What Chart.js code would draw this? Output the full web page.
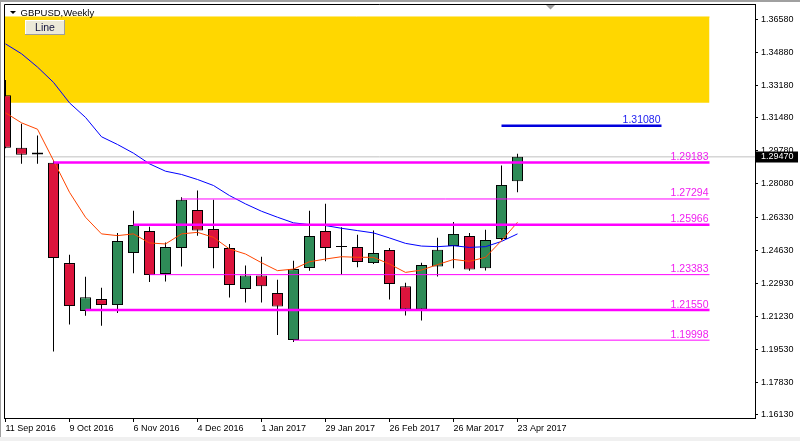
<!DOCTYPE html>
<html>
<head>
<meta charset="utf-8">
<title>GBPUSD,Weekly</title>
<script src="https://cdn.jsdelivr.net/npm/chart.js@4.4.1/dist/chart.umd.min.js"></script>
<style>
  html, body { margin: 0; padding: 0; background: #fff; }
  canvas { display: block; }
</style>
</head>
<body>
<canvas id="chart" width="800" height="441"></canvas>
<script>
// Weekly candles
var weeks = ['11 Sep 2016', '18 Sep 2016', '25 Sep 2016', '2 Oct 2016', '9 Oct 2016', '16 Oct 2016',
    '23 Oct 2016', '30 Oct 2016', '6 Nov 2016', '13 Nov 2016', '20 Nov 2016', '27 Nov 2016',
    '4 Dec 2016', '11 Dec 2016', '18 Dec 2016', '25 Dec 2016', '1 Jan 2017', '8 Jan 2017',
    '15 Jan 2017', '22 Jan 2017', '29 Jan 2017', '5 Feb 2017', '12 Feb 2017', '19 Feb 2017',
    '26 Feb 2017', '5 Mar 2017', '12 Mar 2017', '19 Mar 2017', '26 Mar 2017', '2 Apr 2017',
    '9 Apr 2017', '16 Apr 2017', '23 Apr 2017'];
var open = [1.3265, 1.2994, 1.2959, 1.2916, 1.2398, 1.2150, 1.2212, 1.2181, 1.2450, 1.2564, 1.2342,
    1.2476, 1.2673, 1.2574, 1.2476, 1.2264, 1.2334, 1.2243, 1.2000, 1.2373, 1.2564, 1.2483,
    1.2481, 1.2398, 1.2466, 1.2279, 1.2160, 1.2381, 1.2486, 1.2538, 1.2371, 1.2523, 1.2821];
var high = [1.3344, 1.3118, 1.3057, 1.2928, 1.2441, 1.2328, 1.2271, 1.2554, 1.2669, 1.2586, 1.2505,
    1.2738, 1.2773, 1.2725, 1.2497, 1.2385, 1.2431, 1.2312, 1.2410, 1.2669, 1.2705, 1.2583,
    1.2545, 1.2566, 1.2476, 1.2296, 1.2400, 1.2529, 1.2611, 1.2554, 1.2571, 1.2902, 1.2963];
var low = [1.2992, 1.2911, 1.2911, 1.1941, 1.2081, 1.2126, 1.2074, 1.2140, 1.2345, 1.2300, 1.2303,
    1.2381, 1.2540, 1.2371, 1.2220, 1.2194, 1.2194, 1.2027, 1.1990, 1.2359, 1.2407, 1.2338,
    1.2376, 1.2393, 1.2210, 1.2127, 1.2101, 1.2329, 1.2371, 1.2359, 1.2360, 1.2518, 1.2764];
var close = [1.2994, 1.2958, 1.2970, 1.2424, 1.2176, 1.2222, 1.2181, 1.2512, 1.2595, 1.2336, 1.2481,
    1.2725, 1.2566, 1.2476, 1.2285, 1.2334, 1.2279, 1.2174, 1.2367, 1.2538, 1.2476, 1.2481,
    1.2404, 1.2450, 1.2290, 1.2160, 1.2388, 1.2467, 1.2549, 1.2365, 1.2518, 1.2802, 1.2947];

// moving averages
var maFast = [1.3175, 1.3123, 1.3090, 1.2928, 1.2764, 1.2635, 1.2549, 1.2540, 1.2549, 1.2502, 1.2497,
    1.2549, 1.2557, 1.2531, 1.2471, 1.2445, 1.2400, 1.2359, 1.2367, 1.2405, 1.2419, 1.2431,
    1.2428, 1.2428, 1.2393, 1.2350, 1.2362, 1.2390, 1.2417, 1.2407, 1.2428, 1.2514, 1.2609];
var maSlow = [1.3531, 1.3480, 1.3411, 1.3332, 1.3226, 1.3151, 1.3051, 1.3011, 1.2966, 1.2911, 1.2873,
    1.2856, 1.2830, 1.2799, 1.2747, 1.2704, 1.2666, 1.2635, 1.2606, 1.2597, 1.2592, 1.2578,
    1.2566, 1.2554, 1.2528, 1.2500, 1.2486, 1.2483, 1.2488, 1.2479, 1.2483, 1.2510, 1.2549];

// axes
var tickWeeks = [0, 4, 8, 12, 16, 20, 24, 28, 32];
var priceTicks = [1.36580, 1.34880, 1.33180, 1.31480, 1.29780, 1.28080, 1.26330,
    1.24630, 1.22930, 1.21230, 1.19530, 1.17830, 1.16130];

// drawn objects (prices, start week)
var majorLevels = [1.29183, 1.25966, 1.21550];
var majorStart = [3, 8, 5];
var minorLevels = [1.27294, 1.23383, 1.19998];
var minorStart = [11, 9, 18];
var levelEnd = 44;
var targetLevel = 1.31080;
var targetStart = 31;
var targetEnd = 41;
var zoneTop = 1.3670;
var zoneBottom = 1.3227;
var zoneEnd = 44;

var xMin = -0.09375, xMax = 46.84375;
var yMin = 1.159748, yMax = 1.373707;
var lastPrice = close[close.length - 1];

function flatLine(from, to, value, color, width, order) {
    return {
        type: 'line',
        data: [{x: from, y: value}, {x: to, y: value}],
        borderColor: color,
        borderWidth: width,
        pointRadius: 0,
        fill: false,
        order: order
    };
}

function maLine(values, color) {
    return {
        type: 'line',
        data: values.map((v, i) => ({x: i, y: v})),
        borderColor: color,
        borderWidth: 1,
        pointRadius: 0,
        tension: 0,
        fill: false,
        order: 1
    };
}

// no label overflow padding, keep the plot box fixed
function fixBox(scale) {
    scale.paddingTop = 0;
    scale.paddingBottom = 0;
    scale.paddingLeft = 0;
    scale.paddingRight = 0;
}

var datasets = [];
majorLevels.forEach((v, i) => datasets.push(flatLine(majorStart[i], levelEnd, v, '#FF00FF', 2.5, 0)));
minorLevels.forEach((v, i) => datasets.push(flatLine(minorStart[i], levelEnd, v, '#FF00FF', 1, 0)));
datasets.push(flatLine(targetStart, targetEnd, targetLevel, '#0000DD', 2.5, 0));
datasets.push(maLine(maFast, '#FF4500'));
datasets.push(maLine(maSlow, '#0000FF'));
datasets.push({
    type: 'bar',
    data: open.map((o, i) => ({x: i, y: [o, close[i]]})),
    backgroundColor: open.map((o, i) => close[i] >= o ? '#2E8B57' : '#DC143C'),
    borderColor: '#000',
    borderWidth: 1,
    borderSkipped: false,
    grouped: false,
    barPercentage: 1,
    categoryPercentage: 1,
    maxBarThickness: 11,
    minBarLength: 1,
    inflateAmount: 0,
    order: 2
});
datasets.push({
    type: 'bar',
    data: high.map((h, i) => ({x: i, y: [low[i], h]})),
    backgroundColor: '#000',
    borderWidth: 0,
    grouped: false,
    barPercentage: 1,
    categoryPercentage: 1,
    maxBarThickness: 1,
    inflateAmount: 0,
    order: 3
});
datasets.push(flatLine(xMin - 1, xMax + 1, lastPrice, '#C0C0C0', 1, 4));
datasets.push({
    type: 'line',
    data: [{x: xMin - 1, y: zoneTop}, {x: zoneEnd, y: zoneTop}],
    borderColor: '#FFD700',
    borderWidth: 1,
    backgroundColor: '#FFD700',
    fill: {value: zoneBottom},
    pointRadius: 0,
    order: 5
});

var decor = {
    id: 'decor',
    beforeDraw: function(chart) {
        var ctx = chart.ctx;
        ctx.save();
        ctx.fillStyle = '#fff';
        ctx.fillRect(0, 0, chart.width, chart.height);
        ctx.fillStyle = '#A0A0A0';
        ctx.fillRect(0, 0, chart.width, 2);
        ctx.fillRect(0, 0, 1, chart.height);
        ctx.fillStyle = '#F0F0F0';
        ctx.fillRect(0, 437, chart.width, chart.height - 437);
        ctx.restore();
    },
    afterDraw: function(chart) {
        var ctx = chart.ctx;
        var area = chart.chartArea;
        var xs = chart.scales.x, ys = chart.scales.y;
        ctx.save();
        // frame left / top
        ctx.strokeStyle = '#000';
        ctx.lineWidth = 1;
        ctx.beginPath();
        ctx.moveTo(area.left + 0.5, area.bottom);
        ctx.lineTo(area.left + 0.5, area.top + 0.5);
        ctx.lineTo(area.right, area.top + 0.5);
        ctx.stroke();

        // title
        ctx.fillStyle = '#000';
        ctx.beginPath();
        ctx.moveTo(10, 11);
        ctx.lineTo(16, 11);
        ctx.lineTo(13, 14);
        ctx.closePath();
        ctx.fill();
        ctx.font = '9.5px "Liberation Sans"';
        ctx.textBaseline = 'middle';
        ctx.textAlign = 'left';
        ctx.fillText('GBPUSD,Weekly', 20.5, 13);

        // shift marker
        ctx.fillStyle = '#A0A0A0';
        ctx.beginPath();
        ctx.moveTo(546, 5);
        ctx.lineTo(555, 5);
        ctx.lineTo(550.5, 9.5);
        ctx.closePath();
        ctx.fill();

        // Line button
        ctx.fillStyle = '#ECE9D8';
        ctx.fillRect(26, 21, 38, 13);
        ctx.fillStyle = '#fff';
        ctx.fillRect(25, 20, 39, 1);
        ctx.fillRect(25, 20, 1, 14);
        ctx.fillStyle = '#9D9D9D';
        ctx.fillRect(25, 34, 40, 1);
        ctx.fillRect(64, 20, 1, 15);
        ctx.fillStyle = '#10103A';
        ctx.font = '10.5px "Liberation Sans"';
        ctx.textAlign = 'center';
        ctx.fillText('Line', 45, 28);

        // level labels
        ctx.font = '10.5px "Liberation Sans"';
        ctx.textAlign = 'right';
        ctx.textBaseline = 'alphabetic';
        ctx.fillStyle = '#F020F0';
        majorLevels.concat(minorLevels).forEach(function(v) {
            ctx.fillText(v.toFixed(5), xs.getPixelForValue(levelEnd) - 1, ys.getPixelForValue(v) - 2.5);
        });
        ctx.fillStyle = '#2020F0';
        ctx.fillText(targetLevel.toFixed(5), xs.getPixelForValue(targetEnd) - 1, ys.getPixelForValue(targetLevel) - 3);

        // current price box
        var py = ys.getPixelForValue(lastPrice);
        ctx.fillStyle = '#000';
        ctx.fillRect(area.right + 1, Math.round(py) - 5.5, chart.width - area.right - 3, 11);
        ctx.fillStyle = '#fff';
        ctx.font = '9px "Liberation Sans"';
        ctx.textAlign = 'left';
        ctx.textBaseline = 'middle';
        ctx.fillText(lastPrice.toFixed(5), area.right + 6, Math.round(py));
        ctx.restore();
    }
};

Chart.defaults.font.family = '"Liberation Sans", Arial, sans-serif';

new Chart(document.getElementById('chart'), {
    type: 'bar',
    data: {datasets: datasets},
    options: {
        responsive: false,
        animation: false,
        layout: {padding: {left: 4, top: 4, right: 0, bottom: 0}},
        plugins: {legend: {display: false}, tooltip: {enabled: false}},
        scales: {
            x: {
                type: 'linear',
                min: xMin,
                max: xMax,
                offset: false,
                afterFit: function(scale) { scale.height = 23; fixBox(scale); },
                afterBuildTicks: function(scale) {
                    scale.ticks = tickWeeks.map(v => ({value: v}));
                },
                grid: {drawOnChartArea: false, offset: false, tickLength: 4, color: '#000'},
                border: {color: '#000'},
                ticks: {
                    autoSkip: false,
                    maxRotation: 0,
                    align: 'start',
                    padding: 1,
                    color: '#000',
                    font: {size: 9},
                    callback: function(v) { return weeks[v]; }
                }
            },
            y: {
                type: 'linear',
                position: 'right',
                min: yMin,
                max: yMax,
                afterFit: function(scale) { scale.width = 45; fixBox(scale); },
                afterBuildTicks: function(scale) {
                    scale.ticks = priceTicks.map(v => ({value: v}));
                },
                grid: {drawOnChartArea: false, tickLength: 3, color: '#000'},
                border: {color: '#000'},
                ticks: {
                    autoSkip: false,
                    padding: 3,
                    color: '#000',
                    font: {size: 9},
                    callback: function(v) { return v.toFixed(5); }
                }
            }
        }
    },
    plugins: [decor]
});
</script>
</body>
</html>
